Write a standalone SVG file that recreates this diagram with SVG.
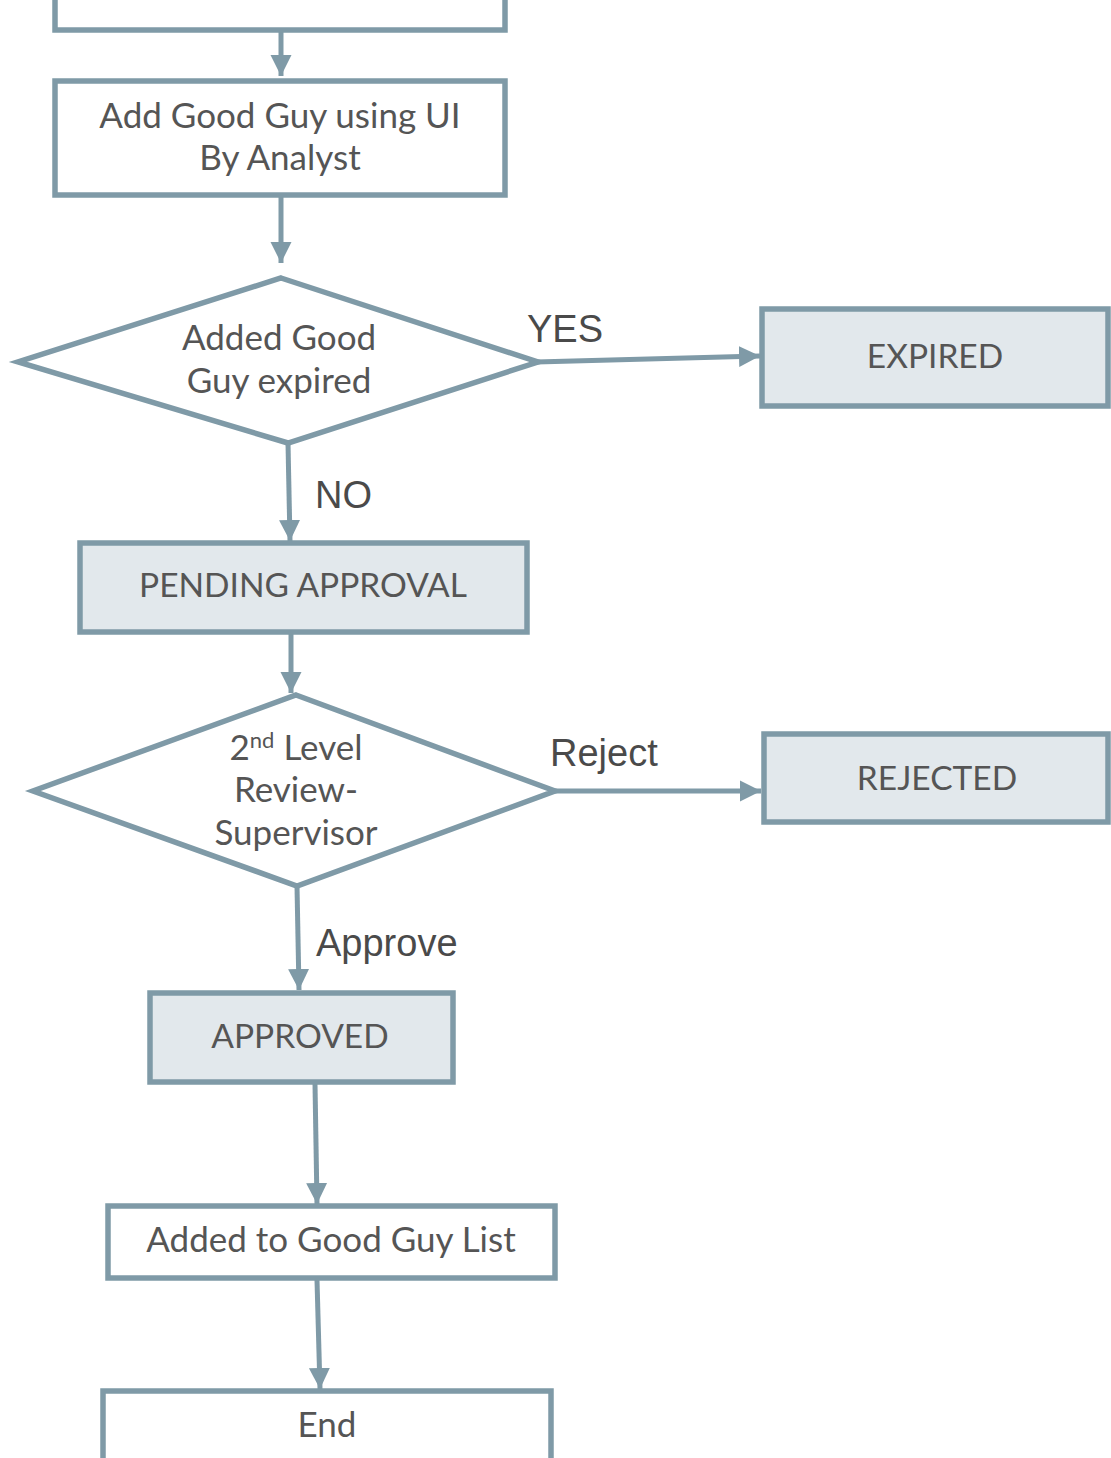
<svg xmlns="http://www.w3.org/2000/svg" width="1111" height="1458" viewBox="0 0 1111 1458">
<defs>
<style>
.box{fill:#ffffff;stroke:#7f9aa7;stroke-width:5.5}
.shaded{fill:#e2e8ec;stroke:#7f9aa7;stroke-width:5.5}
.dia{fill:#ffffff;stroke:#7f9aa7;stroke-width:5.5;stroke-linejoin:miter}
.edge{fill:none;stroke:#7f9aa7;stroke-width:5}
.t{font-family:Lato,"Open Sans","Liberation Sans",sans-serif;font-size:35px;fill:#555555;text-anchor:middle}
.caps{font-size:33.5px}
.lbl{font-family:"Liberation Sans",Arial,sans-serif;font-size:38px;fill:#4a4a4a}
</style>
<marker id="arr" markerUnits="userSpaceOnUse" markerWidth="24" markerHeight="24" viewBox="0 0 24 24" refX="21" refY="12" orient="auto">
<path d="M0,1.5 L21,12 L0,22.5 Z" fill="#7f9aa7"/>
</marker>
</defs>
<rect width="1111" height="1458" fill="#ffffff"/>
<g id="connectors">
<line class="edge" x1="281" y1="32" x2="281" y2="76" marker-end="url(#arr)"/>
<line class="edge" x1="281" y1="197" x2="281" y2="263" marker-end="url(#arr)"/>
<line class="edge" x1="536" y1="362" x2="760" y2="356" marker-end="url(#arr)"/>
<line class="edge" x1="288" y1="443" x2="290" y2="541" marker-end="url(#arr)"/>
<line class="edge" x1="291" y1="634" x2="291" y2="693" marker-end="url(#arr)"/>
<line class="edge" x1="553" y1="791" x2="761" y2="791" marker-end="url(#arr)"/>
<line class="edge" x1="297" y1="886" x2="299" y2="990" marker-end="url(#arr)"/>
<line class="edge" x1="315" y1="1084" x2="317" y2="1204" marker-end="url(#arr)"/>
<line class="edge" x1="317" y1="1280" x2="320" y2="1389" marker-end="url(#arr)"/>
</g>
<g id="labels">
<text class="lbl" x="527" y="342">YES</text>
<text class="lbl" x="315" y="508">NO</text>
<text class="lbl" x="550" y="766">Reject</text>
<text class="lbl" x="316" y="956">Approve</text>
</g>
<g id="start">
<rect class="box" x="55" y="-50" width="450" height="80"/>
</g>
<g id="add-good-guy">
<rect class="box" x="55" y="81" width="450" height="114"/>
<text class="t" x="280" y="128">Add Good Guy using UI</text>
<text class="t" x="280" y="170">By Analyst</text>
</g>
<g id="expired-decision">
<polygon class="dia" points="281,278 538,362 288,443 18,362"/>
<text class="t" x="279" y="350">Added Good</text>
<text class="t" x="279" y="393">Guy expired</text>
</g>
<g id="expired">
<rect class="shaded" x="762" y="309" width="346" height="97"/>
<text class="t caps" x="935" y="368">EXPIRED</text>
</g>
<g id="pending">
<rect class="shaded" x="80" y="543" width="447" height="89"/>
<text class="t caps" x="303" y="597">PENDING APPROVAL</text>
</g>
<g id="review-decision">
<polygon class="dia" points="296,695 555,791 297,886 33,791"/>
<text class="t" x="296" y="760">2<tspan font-size="22" dy="-12">nd</tspan><tspan dy="12"> Level</tspan></text>
<text class="t" x="296" y="802">Review-</text>
<text class="t" x="296" y="845">Supervisor</text>
</g>
<g id="rejected">
<rect class="shaded" x="764" y="734" width="344" height="88"/>
<text class="t caps" x="937" y="790">REJECTED</text>
</g>
<g id="approved">
<rect class="shaded" x="150" y="993" width="303" height="89"/>
<text class="t caps" x="300" y="1048">APPROVED</text>
</g>
<g id="added-list">
<rect class="box" x="108" y="1206" width="447" height="72"/>
<text class="t" x="331" y="1252">Added to Good Guy List</text>
</g>
<g id="end">
<rect class="box" x="103" y="1391" width="448" height="110"/>
<text class="t" x="327" y="1437">End</text>
</g>
</svg>
